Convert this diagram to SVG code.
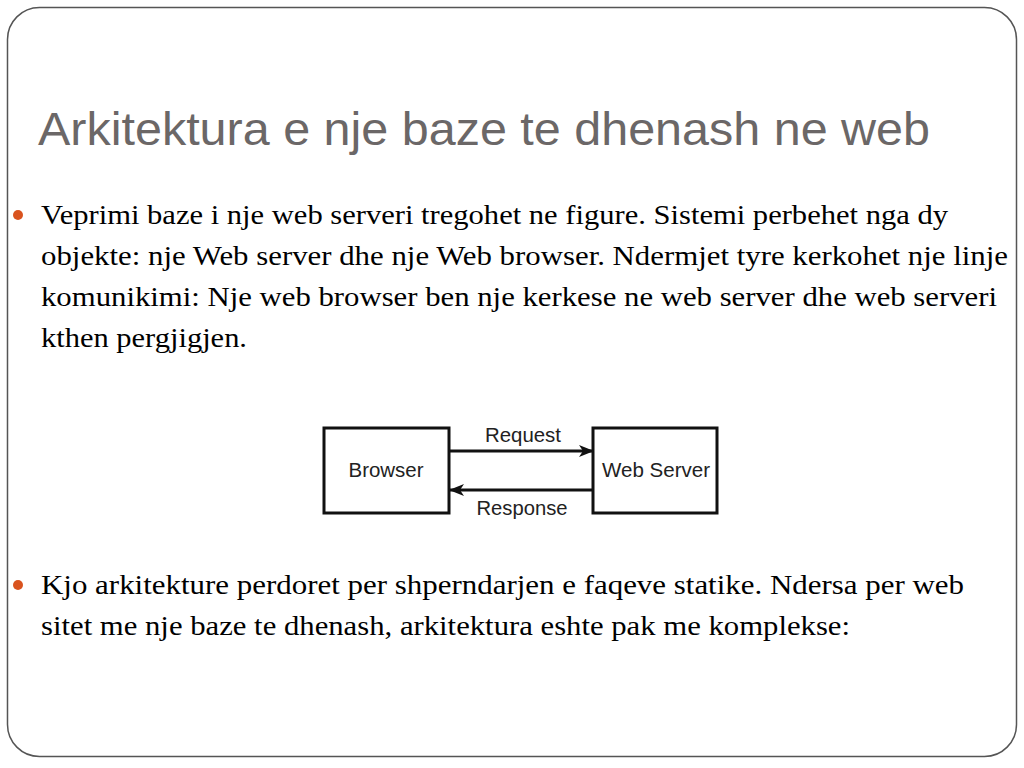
<svg xmlns="http://www.w3.org/2000/svg" width="1024" height="768" viewBox="0 0 1024 768">
<defs>
<style>
.title{font-family:"Liberation Sans",Arial,sans-serif;font-size:46px;fill:#6b6767}
.body{font-family:"Liberation Serif","Times New Roman",serif;font-size:27px;fill:#000}
.lbl{font-family:"Liberation Sans",Arial,sans-serif;font-size:19.5px;fill:#222}
.box{fill:#fff;stroke:#111;stroke-width:3}
.conn{stroke:#111;stroke-width:3;fill:none}
.bullet{fill:#d9531e}
</style>
<marker id="ah" viewBox="0 0 15 12" refX="14" refY="6" markerWidth="15" markerHeight="12" markerUnits="userSpaceOnUse" orient="auto">
<path d="M0,0 L15,6 L0,12 L4,6 Z" fill="#111"/>
</marker>
</defs>
<rect x="0" y="0" width="1024" height="768" fill="#fff"/>
<rect x="7.5" y="7.5" width="1009" height="749" rx="32" ry="32" fill="none" stroke="#555" stroke-width="1.5"/>
<text class="title" x="38" y="145" textLength="892" lengthAdjust="spacingAndGlyphs">Arkitektura e nje baze te dhenash ne web</text>
<circle class="bullet" cx="18" cy="215" r="5"/>
<text class="body" x="41" y="224" textLength="907" lengthAdjust="spacingAndGlyphs">Veprimi baze i nje web serveri tregohet ne figure. Sistemi perbehet nga dy</text>
<text class="body" x="41" y="265" textLength="967" lengthAdjust="spacingAndGlyphs">objekte: nje Web server dhe nje Web browser. Ndermjet tyre kerkohet nje linje</text>
<text class="body" x="41" y="306" textLength="956" lengthAdjust="spacingAndGlyphs">komunikimi: Nje web browser ben nje kerkese ne web server dhe web serveri</text>
<text class="body" x="41" y="347" textLength="206" lengthAdjust="spacingAndGlyphs">kthen pergjigjen.</text>
<g id="connectors">
<line class="conn" x1="449" y1="451" x2="593" y2="451" marker-end="url(#ah)"/>
<line class="conn" x1="593" y1="490" x2="450" y2="490" marker-end="url(#ah)"/>
<text class="lbl" x="523" y="442" text-anchor="middle" textLength="76" lengthAdjust="spacingAndGlyphs">Request</text>
<text class="lbl" x="522" y="515" text-anchor="middle" textLength="91" lengthAdjust="spacingAndGlyphs">Response</text>
</g>
<g id="browser">
<rect class="box" x="324" y="428" width="125" height="85"/>
<text class="lbl" x="386" y="477" text-anchor="middle" textLength="75" lengthAdjust="spacingAndGlyphs">Browser</text>
</g>
<g id="webserver">
<rect class="box" x="593" y="428" width="124" height="85"/>
<text class="lbl" x="656" y="477" text-anchor="middle" textLength="108" lengthAdjust="spacingAndGlyphs">Web Server</text>
</g>
<circle class="bullet" cx="18" cy="585" r="5"/>
<text class="body" x="41" y="594" textLength="923" lengthAdjust="spacingAndGlyphs">Kjo arkitekture perdoret per shperndarjen e faqeve statike. Ndersa per web</text>
<text class="body" x="41" y="635" textLength="809" lengthAdjust="spacingAndGlyphs">sitet me nje baze te dhenash, arkitektura eshte pak me komplekse:</text>
</svg>
